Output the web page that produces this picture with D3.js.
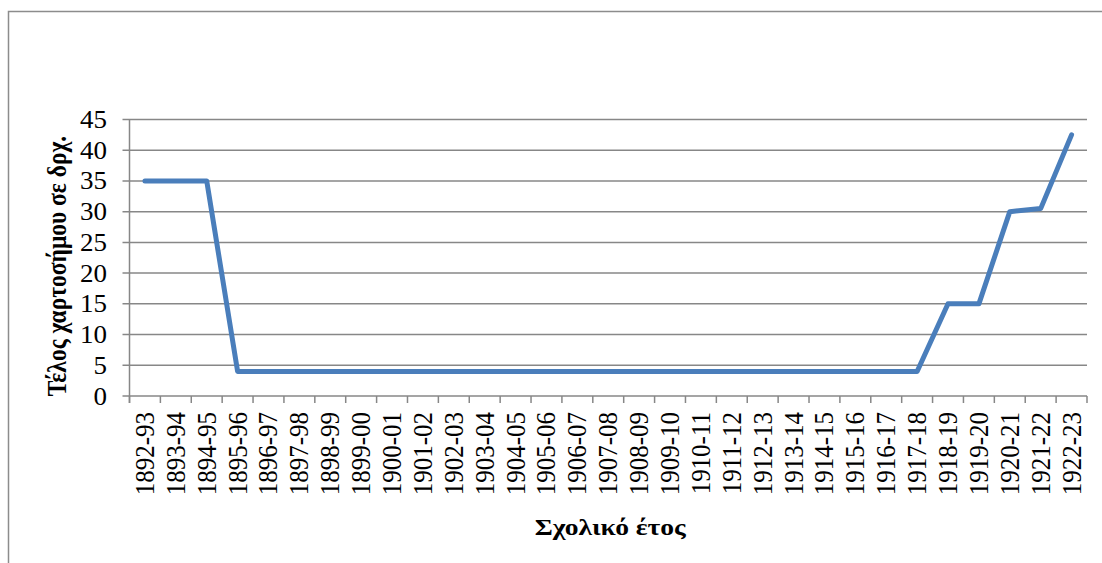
<!DOCTYPE html>
<html>
<head>
<meta charset="utf-8">
<style>
  body { margin: 0; background: #fff; }
  svg { display: block; }
  text { font-family: "Liberation Serif", "DejaVu Serif", serif; }
</style>
</head>
<body>
<div id="chart"></div>
<script src="https://d3js.org/d3.v7.min.js"></script>
<script>
const years = [
  "1892-93", "1893-94", "1894-95", "1895-96", "1896-97", "1897-98", "1898-99",
  "1899-00", "1900-01", "1901-02", "1902-03", "1903-04", "1904-05", "1905-06",
  "1906-07", "1907-08", "1908-09", "1909-10", "1910-11", "1911-12", "1912-13",
  "1913-14", "1914-15", "1915-16", "1916-17", "1917-18", "1918-19", "1919-20",
  "1920-21", "1921-22", "1922-23"
];
const fees = [
  35, 35, 35, 4, 4, 4, 4,
  4, 4, 4, 4, 4, 4, 4,
  4, 4, 4, 4, 4, 4, 4,
  4, 4, 4, 4, 4, 15, 15,
  30, 30.5, 42.5
];
const yTicks = [0, 5, 10, 15, 20, 25, 30, 35, 40, 45];

const width = 1102, height = 563;
const margin = { left: 129.5, right: 1087, top: 119.5, bottom: 396 };
// the original picture is a little wider than tall, so text is stretched sideways
const stretch = 1.2;

const svg = d3.select("#chart").append("svg")
  .attr("width", width)
  .attr("height", height);

// outer frame (only left and top edges fall inside the picture)
svg.append("rect")
  .attr("x", 8.5).attr("y", 11.5)
  .attr("width", 1200).attr("height", 700)
  .attr("fill", "none")
  .attr("stroke", "#8c8c8c")
  .attr("stroke-width", 1.5);

const x = d3.scaleBand()
  .domain(years)
  .range([margin.left, margin.right]);

const y = d3.scaleLinear()
  .domain([0, 45])
  .range([margin.bottom, margin.top]);

// horizontal gridlines
svg.append("g")
  .selectAll("line")
  .data(yTicks)
  .join("line")
  .attr("x1", margin.left - 7)
  .attr("x2", margin.right)
  .attr("y1", d => y(d))
  .attr("y2", d => y(d))
  .attr("stroke", "#878787")
  .attr("stroke-width", 1.5);

// y axis line
svg.append("line")
  .attr("x1", margin.left).attr("x2", margin.left)
  .attr("y1", margin.top).attr("y2", margin.bottom + 7)
  .attr("stroke", "#878787")
  .attr("stroke-width", 1.5);

// y tick labels
svg.append("g")
  .selectAll("text")
  .data(yTicks)
  .join("text")
  .attr("transform", d => `translate(107,${y(d) + 8.5}) scale(1.08,1)`)
  .attr("text-anchor", "end")
  .attr("font-size", "25px")
  .attr("fill", "#000")
  .text(d => d);

// x tick marks at category boundaries
const bounds = years.map(d => x(d)).concat([margin.right]);
svg.append("g")
  .selectAll("line")
  .data(bounds)
  .join("line")
  .attr("x1", d => d).attr("x2", d => d)
  .attr("y1", margin.bottom).attr("y2", margin.bottom + 7)
  .attr("stroke", "#878787")
  .attr("stroke-width", 1.5);

// x tick labels (rotated)
svg.append("g")
  .selectAll("text")
  .data(years)
  .join("text")
  .attr("transform", d => `translate(${x(d) + x.bandwidth() / 2 + 9},412) scale(1.1,1) rotate(-90)`)
  .attr("text-anchor", "end")
  .attr("font-size", "25px")
  .attr("fill", "#000")
  .text(d => d);

// data line
const line = d3.line()
  .x((d, i) => x(years[i]) + x.bandwidth() / 2)
  .y(d => y(d));

svg.append("path")
  .datum(fees)
  .attr("d", line)
  .attr("fill", "none")
  .attr("stroke", "#4a7ebb")
  .attr("stroke-width", 5)
  .attr("stroke-linejoin", "round")
  .attr("stroke-linecap", "round");

// axis titles
svg.append("text")
  .attr("transform", `translate(${(margin.left + margin.right) / 2 + 2},535) scale(${stretch},1)`)
  .attr("text-anchor", "middle")
  .attr("font-size", "23px")
  .attr("font-weight", "bold")
  .text("Σχολικό έτος");

svg.append("text")
  .attr("transform", `translate(66,266) scale(${stretch},1) rotate(-90)`)
  .attr("text-anchor", "middle")
  .attr("font-size", "23.5px")
  .attr("font-weight", "bold")
  .text("Τέλος χαρτοσήμου σε δρχ.");
</script>
</body>
</html>
